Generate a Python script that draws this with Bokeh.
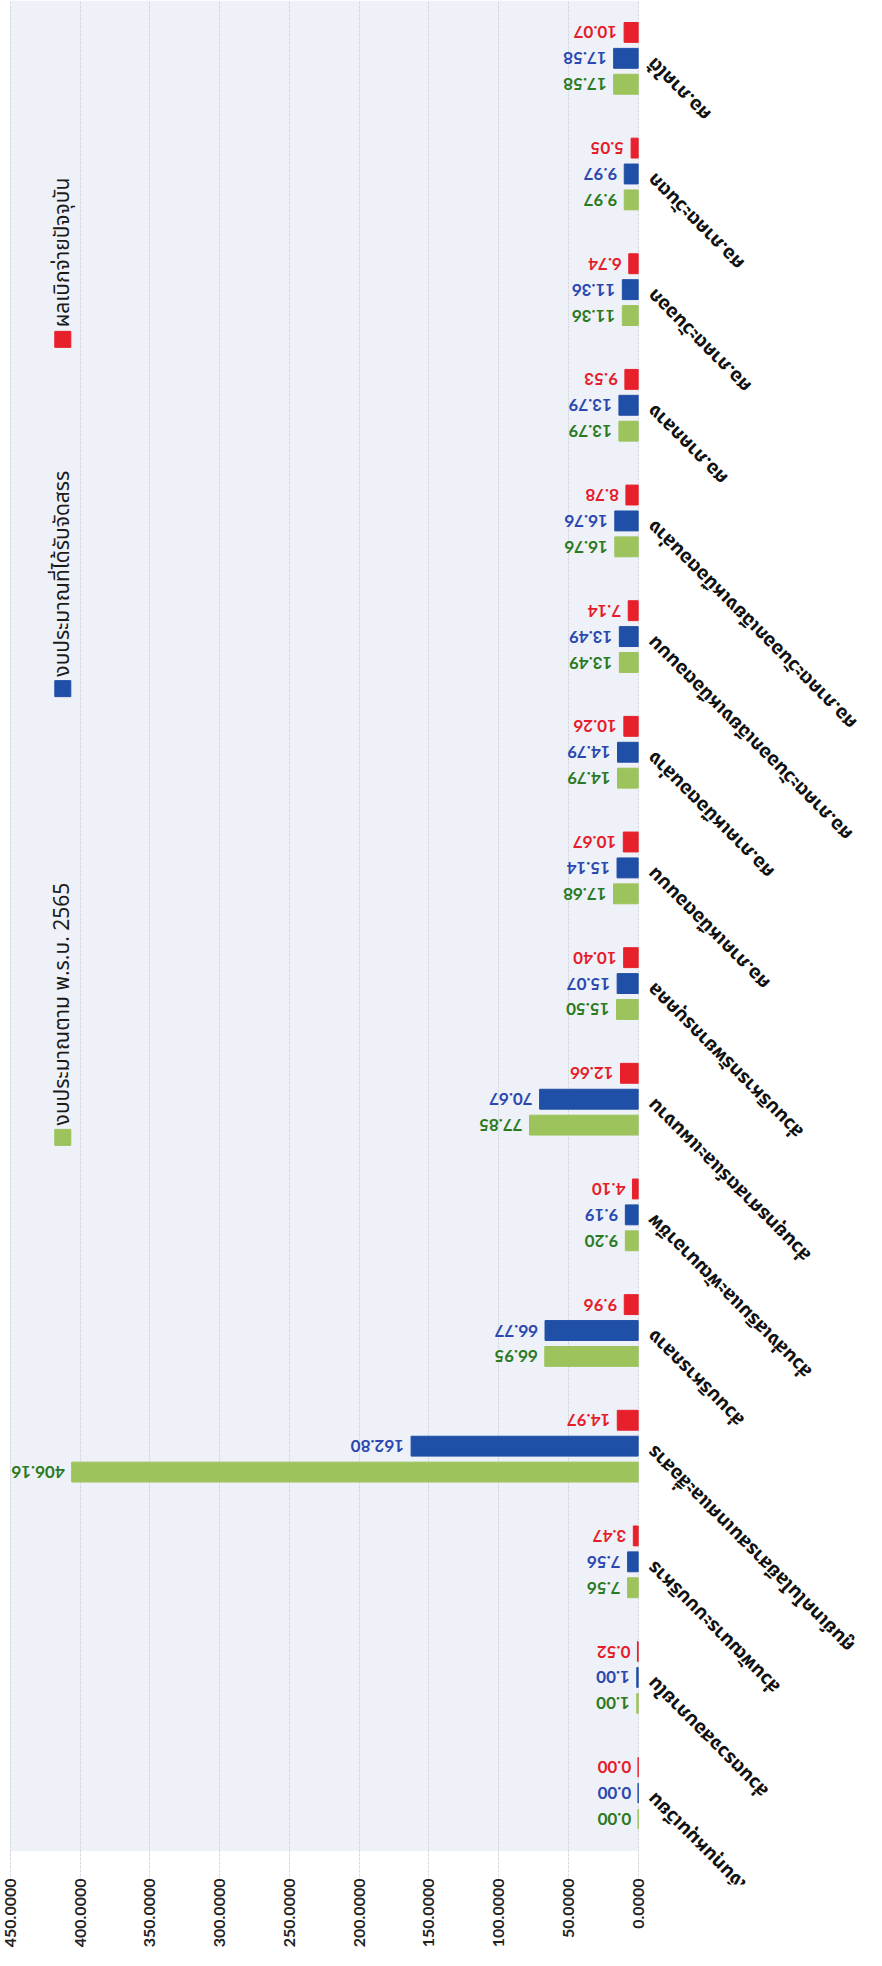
import math
from bokeh.plotting import figure
from bokeh.models import (ColumnDataSource, Range1d, FixedTicker,
                          NumeralTickFormatter, Label, BoxAnnotation)
from bokeh.core.properties import value
from bokeh.embed import file_html
from bokeh.resources import INLINE

# ---------------- data (bottom category first) ----------------
categories = [
    "เงินทุนหมุนเวียน",
    "ส่วนตรวจสอบภายใน",
    "ส่วนพัฒนาระบบบริหาร",
    "ศูนย์เทคโนโลยีสารสนเทศและสื่อสาร",
    "ส่วนบริหารกลาง",
    "ส่วนส่งเสริมและพัฒนาอาชีพ",
    "ส่วนยุทธศาสตร์และแผนงาน",
    "ส่วนบริหารทรัพยากรบุคคล",
    "ศอ.ภาคเหนือตอนบน",
    "ศอ.ภาคเหนือตอนล่าง",
    "ศอ.ภาคตะวันออกเฉียงเหนือตอนบน",
    "ศอ.ภาคตะวันออกเฉียงเหนือตอนล่าง",
    "ศอ.ภาคกลาง",
    "ศอ.ภาคตะวันออก",
    "ศอ.ภาคตะวันตก",
    "ศอ.ภาคใต้",
]
budget_act = [0.00, 1.00, 7.56, 406.16, 66.95, 9.20, 77.85, 15.50, 17.68, 14.79,
              13.49, 16.76, 13.79, 11.36, 9.97, 17.58]
budget_alloc = [0.00, 1.00, 7.56, 162.80, 66.77, 9.19, 70.67, 15.07, 15.14, 14.79,
                13.49, 16.76, 13.79, 11.36, 9.97, 17.58]
disbursed = [0.00, 0.52, 3.47, 14.97, 9.96, 4.10, 12.66, 10.40, 10.67, 10.26,
             7.14, 8.78, 9.53, 6.74, 5.05, 10.07]
series_names = ["งบประมาณตาม พ.ร.บ. 2565", "งบประมาณที่ได้รับจัดสรร", "ผลเบิกจ่ายปัจจุบัน"]
value_ticks = [0, 50, 100, 150, 200, 250, 300, 350, 400, 450]

# ---------------- styles ----------------
GREEN, BLUE, RED = "#9cc35c", "#1f4fa6", "#e8202b"
GREEN_T, BLUE_T, RED_T = "#2b7a22", "#2a48b0", "#e51d2a"
THAI_FONT = "Noto Sans Thai, Noto Sans, sans-serif"
NUM_FONT = "Lato"

n = len(categories)
pos = [i + 0.5 for i in range(n)]          # category slots
OFF = 0.224
H = 0.172

src = ColumnDataSource(dict(
    cat=categories,
    pos=pos,
    pos_g=[v - OFF for v in pos],
    pos_r=[v + OFF for v in pos],
    act=budget_act,
    alloc=budget_alloc,
    disb=disbursed,
    act_t=["%.2f" % v for v in budget_act],
    alloc_t=["%.2f" % v for v in budget_alloc],
    disb_t=["%.2f" % v for v in disbursed],
))

p = figure(width=866, height=1950, output_backend="svg", toolbar_location=None,
           y_range=Range1d(-0.29, n),
           x_range=Range1d(454.3, -163.7),
           min_border_left=4, min_border_right=0, min_border_top=0, min_border_bottom=64)
p.background_fill_color = "white"
p.border_fill_color = "white"
p.outline_line_color = None

# plot-area tint (only over the value region)
p.add_layout(BoxAnnotation(left=0, right=450, bottom=0, top=n, fill_color="#eff1f8",
                           fill_alpha=1.0, line_color=None, level="image"))

p.hbar(y="pos_g", left=0, right="act", height=H, color=GREEN, source=src)
p.hbar(y="pos", left=0, right="alloc", height=H, color=BLUE, source=src)
p.hbar(y="pos_r", left=0, right="disb", height=H, color=RED, source=src)

for fld, yf, col in (("act", "pos_g", GREEN_T), ("alloc", "pos", BLUE_T), ("disb", "pos_r", RED_T)):
    p.text(x=fld, y=yf, text=fld + "_t", source=src, angle=math.pi, x_offset=-7,
           text_align="left", text_baseline="middle",
           text_font=value(NUM_FONT), text_font_style="bold",
           text_font_size="17px", text_color=col)

# category labels (diagonal, right side)
p.text(x=0, y="pos", text="cat", source=src, angle=3 * math.pi / 4,
       x_offset=13, y_offset=2, text_align="right", text_baseline="middle",
       text_font=value(THAI_FONT), text_font_style="bold", text_font_size="19px",
       text_color="#111111")

# axes
p.yaxis.visible = False
p.xaxis.ticker = FixedTicker(ticks=value_ticks)
p.xaxis.formatter = NumeralTickFormatter(format="0.0000")
p.xaxis.major_label_orientation = math.pi / 2
p.xaxis.axis_line_color = None
p.xaxis.major_tick_line_color = None
p.xaxis.minor_tick_line_color = None
p.xaxis.major_tick_out = 0
p.xaxis.major_tick_in = 0
p.xaxis.major_label_text_font = "Lato"
p.xaxis.major_label_text_font_style = "bold"
p.xaxis.major_label_text_font_size = "16px"
p.xaxis.major_label_text_color = "#222222"
p.xaxis.major_label_standoff = -6
p.xgrid.grid_line_color = "#d6d8df"
p.xgrid.grid_line_dash = "3 1"
p.ygrid.grid_line_color = None

# legend (rotated, drawn manually)
leg_x = 412.5
leg_y = [6.17, 10.05, 13.07]
leg_cols = [GREEN, BLUE, RED]
p.scatter(x=[leg_x] * 3, y=leg_y, marker="square", size=16, color=leg_cols)
for name, ly in zip(series_names, leg_y):
    p.add_layout(Label(x=leg_x, y=ly, text=name, angle=math.pi / 2, y_offset=12,
                       text_align="left", text_baseline="middle",
                       text_font=THAI_FONT, text_font_size="21px", text_color="#1a1a1a"))

open("out.html", "w").write(file_html(p, INLINE))
